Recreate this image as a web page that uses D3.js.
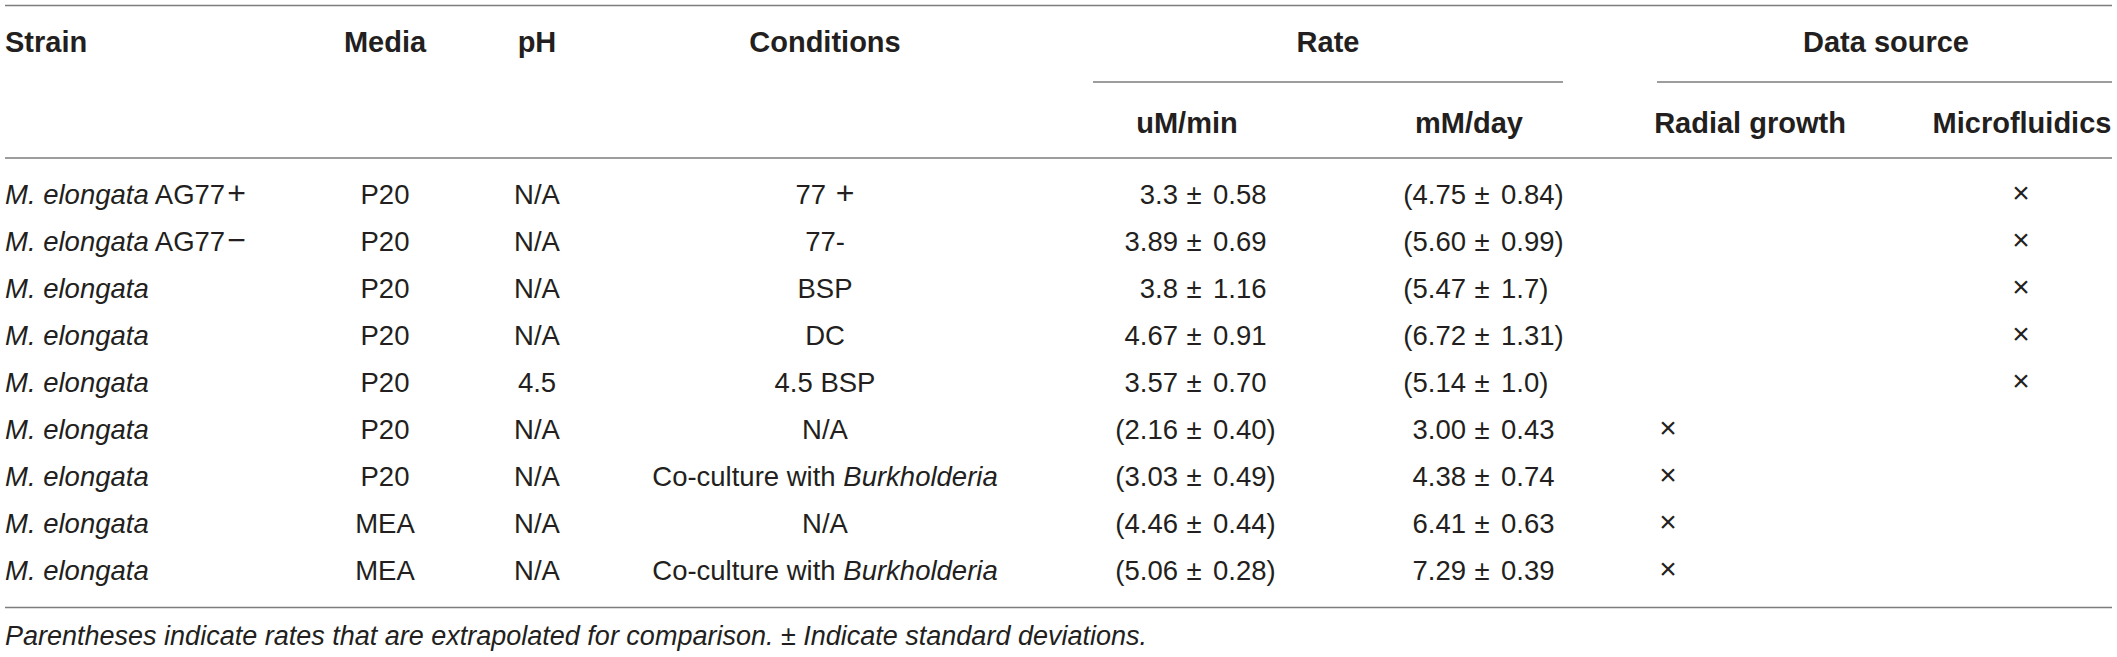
<!DOCTYPE html>
<html>
<head>
<meta charset="utf-8">
<script src="https://cdn.jsdelivr.net/npm/d3@7/dist/d3.min.js"></script>
<style>
    body { margin: 0; background: #fff; }
    svg { display: block; }
    text { font-family: "Liberation Sans", Arial, sans-serif; }
</style>
</head>
<body>
<div id="chart-area"></div>
<script>
// table content, one array per column
const strains = ["M. elongata AG77+", "M. elongata AG77\u2212", "M. elongata", "M. elongata", "M. elongata",
    "M. elongata", "M. elongata", "M. elongata", "M. elongata"]
const media = ["P20", "P20", "P20", "P20", "P20", "P20", "P20", "MEA", "MEA"]
const ph = ["N/A", "N/A", "N/A", "N/A", "4.5", "N/A", "N/A", "N/A", "N/A"]
const conditions = ["77 +", "77-", "BSP", "DC", "4.5 BSP", "N/A", "Co-culture with Burkholderia",
    "N/A", "Co-culture with Burkholderia"]
const rateUmMean = ["3.3", "3.89", "3.8", "4.67", "3.57", "2.16", "3.03", "4.46", "5.06"]
const rateUmSd = ["0.58", "0.69", "1.16", "0.91", "0.70", "0.40", "0.49", "0.44", "0.28"]
const rateMmMean = ["4.75", "5.60", "5.47", "6.72", "5.14", "3.00", "4.38", "6.41", "7.29"]
const rateMmSd = ["0.84", "0.99", "1.7", "1.31", "1.0", "0.43", "0.74", "0.63", "0.39"]
// true = value in parentheses (extrapolated)
const umExtrapolated = [false, false, false, false, false, true, true, true, true]
const mmExtrapolated = [true, true, true, true, true, false, false, false, false]
const dataSource = ["Microfluidics", "Microfluidics", "Microfluidics", "Microfluidics", "Microfluidics",
    "Radial growth", "Radial growth", "Radial growth", "Radial growth"]
const italicWords = ["M. elongata", "Burkholderia"]
const footnote = "Parentheses indicate rates that are extrapolated for comparison. \u00b1 Indicate standard deviations."

const W = 2117, H = 657
const ink = "#231f20"
const ruleColor = "#7d7d7d"

const svg = d3.select("#chart-area").append("svg")
    .attr("width", W)
    .attr("height", H)

// row baselines and column anchors
const y = d3.scalePoint()
    .domain(d3.range(strains.length))
    .range([204, 580])

const colX = d3.scaleOrdinal()
    .domain(["strain", "media", "ph", "cond", "um", "mm", "Radial growth", "Microfluidics"])
    .range([5, 385, 537, 825, 1194, 1482, 1668, 2021])

// header
const headTop = [
    {t: "Strain", col: "strain", anchor: "start"},
    {t: "Media", col: "media", anchor: "middle"},
    {t: "pH", col: "ph", anchor: "middle"},
    {t: "Conditions", col: "cond", anchor: "middle"},
    {t: "Rate", x: 1328, anchor: "middle"},
    {t: "Data source", x: 1886, anchor: "middle"}
]
const headSub = [
    {t: "uM/min", x: 1187},
    {t: "mM/day", x: 1469},
    {t: "Radial growth", x: 1750},
    {t: "Microfluidics", x: 2022}
]

svg.selectAll(".h1").data(headTop).enter().append("text")
    .attr("x", d => d.col ? colX(d.col) : d.x)
    .attr("y", 52)
    .attr("text-anchor", d => d.anchor)
    .attr("font-size", 29)
    .attr("font-weight", "bold")
    .attr("fill", ink)
    .text(d => d.t)

svg.selectAll(".h2").data(headSub).enter().append("text")
    .attr("x", d => d.x)
    .attr("y", 133)
    .attr("text-anchor", "middle")
    .attr("font-size", 29)
    .attr("font-weight", "bold")
    .attr("fill", ink)
    .text(d => d.t)

// rules
const rules = [
    {x1: 5, x2: 2112, y: 5.5},
    {x1: 1093, x2: 1563, y: 82},
    {x1: 1657, x2: 2112, y: 82},
    {x1: 5, x2: 2112, y: 158},
    {x1: 5, x2: 2112, y: 607.5}
]
svg.selectAll("line").data(rules).enter().append("line")
    .attr("x1", d => d.x1)
    .attr("x2", d => d.x2)
    .attr("y1", d => d.y)
    .attr("y2", d => d.y)
    .attr("stroke", ruleColor)
    .attr("stroke-width", 1.6)

// text with italic words and math-style +/- signs
function richText(sel, str) {
    const re = new RegExp("(" + italicWords.join("|") + "|[+\u2212])")
    str.split(re).filter(s => s !== "").forEach(part => {
        const ts = sel.append("tspan").text(part)
        if (italicWords.includes(part)) ts.attr("font-style", "italic")
        if (part === "+" || part === "\u2212") ts.attr("font-size", 32).attr("dx", 2)
    })
}

const bodySize = 27.5
const rows = d3.range(strains.length)

function textCol(values, col, anchor) {
    svg.append("g").selectAll("text").data(values).enter().append("text")
        .attr("x", colX(col))
        .attr("y", (d, i) => y(i))
        .attr("text-anchor", anchor)
        .attr("font-size", bodySize)
        .attr("fill", ink)
        .each(function (d) { richText(d3.select(this), d) })
}

textCol(strains, "strain", "start")
textCol(media, "media", "middle")
textCol(ph, "ph", "middle")
textCol(conditions, "cond", "middle")

// mean ± sd cells, lined up on the ± sign
function rateCol(means, sds, paren, col, leftGap, rightGap) {
    const g = svg.append("g").attr("font-size", bodySize).attr("fill", ink)
    const pm = colX(col)
    g.selectAll(".l").data(rows).enter().append("text")
        .attr("x", pm - leftGap)
        .attr("y", i => y(i))
        .attr("text-anchor", "end")
        .text(i => (paren[i] ? "(" : "") + means[i])
    g.selectAll(".pm").data(rows).enter().append("text")
        .attr("x", pm)
        .attr("y", i => y(i))
        .attr("text-anchor", "middle")
        .text("\u00b1")
    g.selectAll(".r").data(rows).enter().append("text")
        .attr("x", pm + rightGap)
        .attr("y", i => y(i))
        .attr("text-anchor", "start")
        .text(i => sds[i] + (paren[i] ? ")" : ""))
}

rateCol(rateUmMean, rateUmSd, umExtrapolated, "um", 16, 19)
rateCol(rateMmMean, rateMmSd, mmExtrapolated, "mm", 16, 19)

// data source crosses
svg.append("g").selectAll("text").data(dataSource).enter().append("text")
    .attr("x", d => colX(d))
    .attr("y", (d, i) => y(i) - 1)
    .attr("text-anchor", "middle")
    .attr("font-size", 30)
    .attr("fill", ink)
    .text("\u00d7")

// footnote
svg.append("text")
    .attr("x", 5)
    .attr("y", 645)
    .attr("font-size", 27)
    .attr("font-style", "italic")
    .attr("fill", ink)
    .text(footnote)
</script>
</body>
</html>
